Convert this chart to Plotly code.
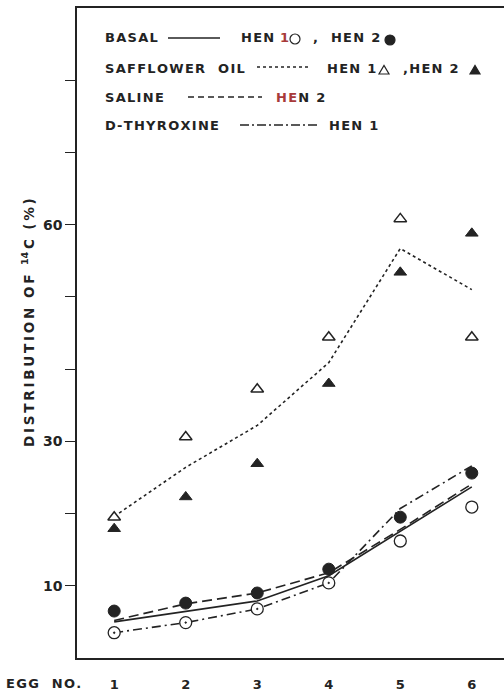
import plotly.graph_objects as go

# Egg number (x) and distribution of 14C in percent (y)
eggs = [1, 2, 3, 4, 5, 6]
egg_labels = ["1", "2", "3", "4", "5", "6"]

basal_hen1 = [3.5, 4.9, 6.8, 10.4, 16.2, 20.9]      # open circles
basal_hen2 = [6.5, 7.6, 9.0, 12.3, 19.5, 25.6]      # filled circles
basal_line = [5.0, 6.5, 7.9, 11.4, 17.5, 23.7]      # solid
saline_hen2 = [5.2, 7.5, 9.0, 11.8, 17.8, 24.1]     # dashed
thyroxine_hen1 = [3.5, 4.9, 6.8, 10.4, 20.7, 26.6]  # dash-dot

safflower_hen1 = [19.5, 30.6, 37.2, 44.4, 60.8, 44.4]  # open triangles
safflower_hen2 = [17.9, 22.3, 26.9, 38.0, 53.4, 58.8]  # filled triangles
safflower_line = [19.6, 26.4, 32.2, 40.9, 56.7, 51.0]  # dotted

y_major = [10, 30, 60]
y_major_text = ["10", "30", "60"]
y_minor = [20, 40, 50, 70, 80]

INK = "#232323"
RED = "#a83a3a"
FONT = "DejaVu Sans"
HAIR = "\u200a"
THIN = "\u2009"

W, H = 504, 691
ML, MR, MT, MB = 77, 0, 8, 33
PW, PH = W - ML - MR, H - MT - MB


def fx(px):
    return (px - ML) / PW


def fy(py):
    return (H - MB - py) / PH


def spaced(s, gap=HAIR):
    """Open up the letter spacing of a plain caption."""
    return gap.join(s)


fig = go.Figure()

line_w = 1.6
fig.add_trace(go.Scatter(x=eggs, y=safflower_line, mode="lines",
                         line=dict(color=INK, width=line_w, dash="dot")))
fig.add_trace(go.Scatter(x=eggs, y=basal_line, mode="lines",
                         line=dict(color=INK, width=line_w)))
fig.add_trace(go.Scatter(x=eggs, y=saline_hen2, mode="lines",
                         line=dict(color=INK, width=line_w, dash="10px,5px")))
fig.add_trace(go.Scatter(x=eggs, y=thyroxine_hen1, mode="lines",
                         line=dict(color=INK, width=line_w, dash="9px,4px,2px,4px")))

fig.add_trace(go.Scatter(x=eggs, y=safflower_hen1, mode="markers",
                         marker=dict(symbol="triangle-up", size=11, color="white",
                                     line=dict(color=INK, width=1.5))))
fig.add_trace(go.Scatter(x=eggs, y=safflower_hen2, mode="markers",
                         marker=dict(symbol="triangle-up", size=11, color=INK,
                                     line=dict(color=INK, width=1))))
fig.add_trace(go.Scatter(x=eggs, y=basal_hen1, mode="markers",
                         marker=dict(symbol=["circle-dot"] * 4 + ["circle"] * 2,
                                     size=12, color="white",
                                     line=dict(color=INK, width=1.3))))
fig.add_trace(go.Scatter(x=eggs, y=basal_hen2, mode="markers",
                         marker=dict(symbol="circle", size=12, color=INK,
                                     line=dict(color=INK, width=1))))

bold = dict(family=FONT, color=INK, weight="bold")

annotations = []


def txt(s, x, y, size=13, **kw):
    annotations.append(dict(text=s, x=fx(x), y=fy(y), xref="paper", yref="paper",
                            xanchor=kw.pop("xanchor", "left"), yanchor="middle",
                            showarrow=False, font=dict(size=size, **bold), **kw))


shapes = []


def key_line(x0, x1, y, dash):
    shapes.append(dict(type="line", xref="paper", yref="paper",
                       x0=fx(x0), x1=fx(x1), y0=fy(y), y1=fy(y),
                       line=dict(color=INK, width=1.5, dash=dash)))


def key_circle(cx, cy, r, filled):
    shapes.append(dict(type="circle", xref="paper", yref="paper",
                       x0=fx(cx - r), x1=fx(cx + r), y0=fy(cy + r), y1=fy(cy - r),
                       fillcolor=INK if filled else "white",
                       line=dict(color=INK, width=1.2)))


def key_triangle(cx, cy, s, filled):
    path = "M{},{} L{},{} L{},{} Z".format(
        fx(cx - s), fy(cy + s * 0.8), fx(cx + s), fy(cy + s * 0.8),
        fx(cx), fy(cy - s * 0.9))
    shapes.append(dict(type="path", xref="paper", yref="paper", path=path,
                       fillcolor=INK if filled else "white",
                       line=dict(color=INK, width=1.2)))


# key block
txt(spaced("BASAL"), 103, 38)
key_line(168, 220, 38, "solid")
txt(spaced("HEN ") + '<span style="color:%s">1</span>' % RED, 239, 38)
key_circle(295, 39, 5, False)
txt(spaced(",  HEN 2"), 311, 38)
key_circle(390, 40, 5, True)

txt(spaced("SAFFLOWER  OIL"), 103, 68)
key_line(257, 310, 67, "dot")
txt(spaced("HEN 1"), 325, 68)
key_triangle(384, 70, 5, False)
txt(spaced(",HEN 2"), 401, 68)
key_triangle(475, 70, 5, True)

txt(spaced("SALINE"), 103, 97)
key_line(188, 262, 97, "6px,4px")
txt('<span style="color:%s">%s</span>%s' % (RED, spaced("HE"), HAIR + spaced("N 2")),
    274, 97)

txt(spaced("D-THYROXINE"), 103, 125)
key_line(240, 318, 125, "9px,3px,2px,3px")
txt(spaced("HEN 1"), 327, 125)

# axis titles
ytitle = (spaced("DISTRIBUTION", THIN) + "  " + spaced("OF", THIN) + "  "
          + "<sup>14</sup>" + THIN + "C" + "  " + spaced("(%)", THIN))
txt(ytitle, 28, 323, size=13.6, textangle=-90, xanchor="center")
txt(spaced("EGG  NO."), 4, 683, size=13)

fig.update_layout(
    width=W, height=H,
    margin=dict(l=ML, r=MR, t=MT, b=MB),
    paper_bgcolor="white", plot_bgcolor="white",
    showlegend=False,
    annotations=annotations,
    shapes=shapes,
    xaxis=dict(range=[0.48, 6.45], tickvals=eggs, ticktext=egg_labels,
               ticks="", ticklabelstandoff=14, showgrid=False, zeroline=False,
               showline=True, linecolor=INK, linewidth=1.6, mirror=True,
               tickfont=dict(size=13, **bold)),
    yaxis=dict(range=[0, 90], tickvals=y_major, ticktext=y_major_text,
               ticks="outside", ticklen=10, tickwidth=1.3, tickcolor=INK,
               minor=dict(tickmode="array", tickvals=y_minor, ticks="outside",
                          ticklen=10, tickwidth=1.3, tickcolor=INK,
                          showgrid=False),
               showgrid=False, zeroline=False,
               showline=True, linecolor=INK, linewidth=1.6,
               tickfont=dict(size=14, **bold)),
)

fig.write_html("out.html")
